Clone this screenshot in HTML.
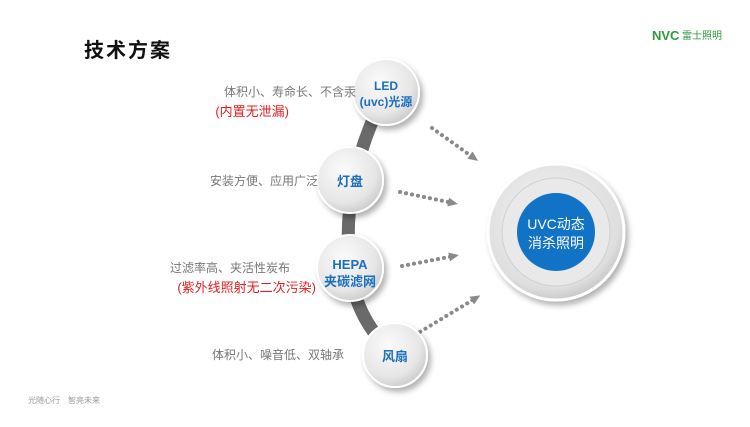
<!DOCTYPE html>
<html><head><meta charset="utf-8"><style>
body{margin:0;width:750px;height:422px;background:#fff;overflow:hidden;font-family:"Liberation Sans","Noto Sans CJK SC",sans-serif;}
</style></head><body>
<svg width="750" height="422" viewBox="0 0 750 422" xmlns="http://www.w3.org/2000/svg" style="font-family:'Liberation Sans','Noto Sans CJK SC',sans-serif">
<defs>
<radialGradient id="g1" cx="40%" cy="35%" r="70%"><stop offset="0" stop-color="#fbfbfb"/><stop offset="0.7" stop-color="#e6e6e6"/><stop offset="1" stop-color="#c8c8c8"/></radialGradient>
<radialGradient id="g2" cx="45%" cy="40%" r="65%"><stop offset="0" stop-color="#f4f4f4"/><stop offset="0.8" stop-color="#dedede"/><stop offset="1" stop-color="#bdbdbd"/></radialGradient>
<filter id="sh" x="-40%" y="-40%" width="180%" height="180%"><feDropShadow dx="3" dy="4" stdDeviation="3" flood-color="#000" flood-opacity="0.3"/></filter>
<marker id="ar" markerWidth="10" markerHeight="10" refX="5" refY="4.5" orient="auto" markerUnits="userSpaceOnUse"><path d="M0,0 L10,4.5 L0,9 Z" fill="#8a8a8a"/></marker>
</defs>
<text x="84" y="57" font-size="20" font-weight="bold" fill="#111" letter-spacing="2">技术方案</text>
<text x="652" y="40" font-size="13" font-weight="bold" fill="#2e9a3c">NVC</text>
<text x="682" y="39" font-size="10" fill="#2e9a3c">雷士照明</text>
<text x="28" y="403" font-size="8" fill="#999">光随心行　智亮未来</text>
<path d="M386,92 Q340,180 350,268 Q355,320 395,355" fill="none" stroke="#6a6a6a" stroke-width="13"/>
<g stroke="#8a8a8a" stroke-width="4" stroke-dasharray="0.1 6" stroke-linecap="round" fill="none">
<line x1="432" y1="128" x2="474" y2="158" marker-end="url(#ar)"/>
<line x1="400" y1="192" x2="453" y2="203" marker-end="url(#ar)"/>
<line x1="402" y1="266" x2="454" y2="256" marker-end="url(#ar)"/>
<line x1="415" y1="335" x2="476" y2="298" marker-end="url(#ar)"/>
</g>
<g filter="url(#sh)">
<circle cx="386" cy="92" r="33" fill="url(#g1)" stroke="#fff" stroke-width="2"/>
<circle cx="350" cy="180" r="33" fill="url(#g1)" stroke="#fff" stroke-width="2"/>
<circle cx="350" cy="268" r="33" fill="url(#g1)" stroke="#fff" stroke-width="2"/>
<circle cx="395" cy="355" r="32" fill="url(#g1)" stroke="#fff" stroke-width="2"/>
</g>
<g fill="#1a6fc0" font-weight="bold" text-anchor="middle">
<text x="386" y="90" font-size="12">LED</text>
<text x="386" y="106" font-size="12">(uvc)光源</text>
<text x="350" y="186" font-size="13">灯盘</text>
<text x="350" y="269" font-size="13">HEPA</text>
<text x="350" y="286" font-size="13">夹碳滤网</text>
<text x="395" y="361" font-size="13">风扇</text>
</g>
<circle cx="556" cy="232" r="68" fill="url(#g2)" stroke="#fff" stroke-width="3" filter="url(#sh)"/>
<circle cx="556" cy="232" r="54" fill="#e9e9e9" stroke="#d0d0d0" stroke-width="1"/>
<circle cx="556" cy="232" r="39" fill="#1173c6"/>
<text x="556" y="229" font-size="14" fill="#fff" text-anchor="middle">UVC动态</text>
<text x="556" y="248" font-size="14" fill="#fff" text-anchor="middle">消杀照明</text>
<g font-size="12" fill="#777" text-anchor="end">
<text x="356" y="96">体积小、寿命长、不含汞</text>
<text x="318" y="185">安装方便、应用广泛</text>
<text x="290" y="272">过滤率高、夹活性炭布</text>
<text x="344" y="359">体积小、噪音低、双轴承</text>
</g>
<g font-size="13" fill="#e02020" text-anchor="end">
<text x="289" y="116">(内置无泄漏)</text>
<text x="316" y="292">(紫外线照射无二次污染)</text>
</g>
</svg>
</body></html>
